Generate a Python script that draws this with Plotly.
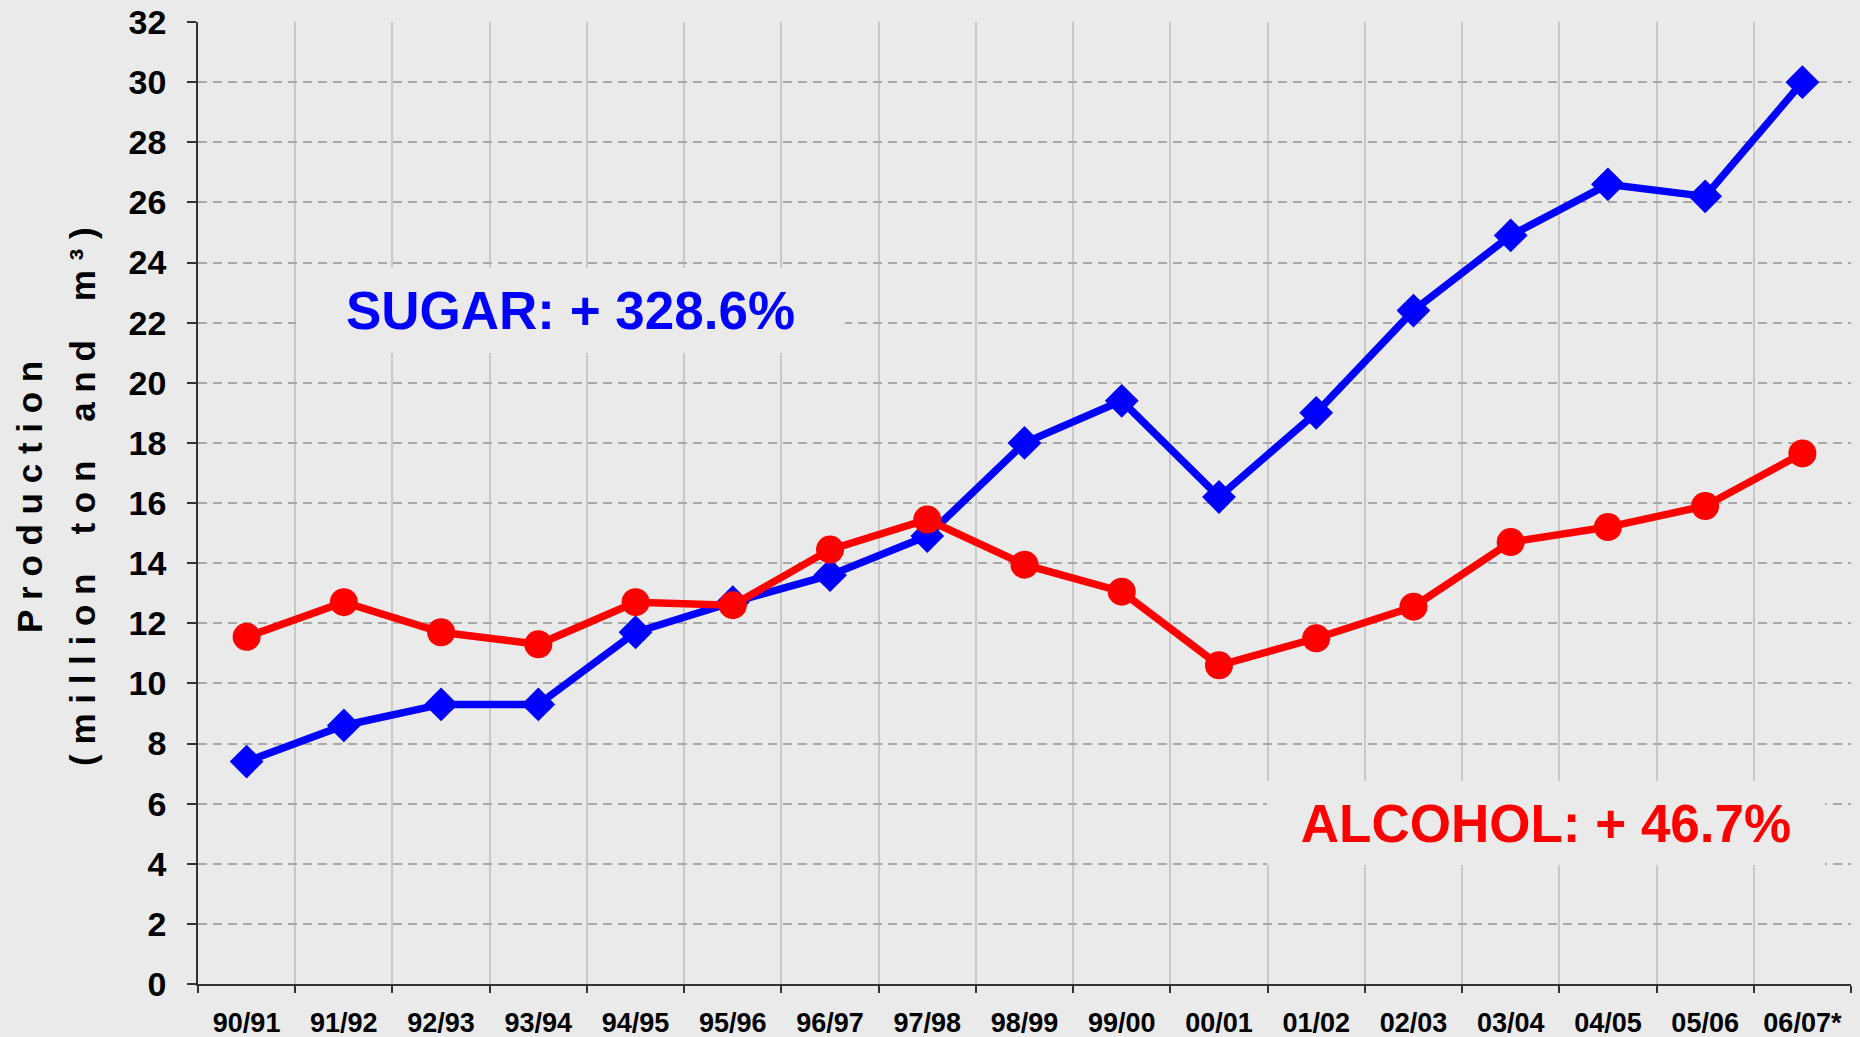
import plotly.graph_objects as go

seasons = ["90/91", "91/92", "92/93", "93/94", "94/95", "95/96", "96/97", "97/98", "98/99",
           "99/00", "00/01", "01/02", "02/03", "03/04", "04/05", "05/06", "06/07*"]
sugar = [7.4, 8.6, 9.3, 9.3, 11.7, 12.7, 13.6, 14.9, 18.0, 19.4, 16.2, 19.0, 22.4, 24.9, 26.6, 26.2, 30.0]
alcohol = [11.55, 12.7, 11.7, 11.3, 12.7, 12.6, 14.45, 15.45, 13.95, 13.05, 10.6, 11.5, 12.55, 14.7, 15.2, 15.9, 17.65]
y_ticks = list(range(0, 33, 2))

FONT = "Liberation Sans, Arial, sans-serif"
BG = "#EAEAEA"
W, H = 1860, 1037
ML, MR, MT, MB = 198, 9, 22, 53
PW, PH = W - ML - MR, H - MT - MB


def px_x(p):
    return (p - ML) / PW


def px_y(p):
    return (H - MB - p) / PH


fig = go.Figure()
fig.add_trace(go.Scatter(
    x=seasons, y=sugar, mode="lines+markers", name="Sugar",
    line=dict(color="#0000FF", width=7.5),
    marker=dict(symbol="diamond", size=26, color="#0000FF"),
))
fig.add_trace(go.Scatter(
    x=seasons, y=alcohol, mode="lines+markers", name="Alcohol",
    line=dict(color="#FF0000", width=7.5),
    marker=dict(symbol="circle", size=28, color="#FF0000"),
))

fig.update_layout(
    width=W, height=H,
    margin=dict(l=ML, r=MR, t=MT, b=MB, autoexpand=False),
    paper_bgcolor=BG, plot_bgcolor=BG,
    showlegend=False,
    font=dict(family=FONT, color="#000000"),
)

fig.update_xaxes(
    type="category", tickson="boundaries", range=[-0.5, len(seasons) - 0.5],
    showgrid=True, gridcolor="#C8C8C8", gridwidth=1.5, griddash="solid",
    showline=True, linecolor="#333333", linewidth=1.5,
    ticks="outside", ticklen=7, tickwidth=1.5, tickcolor="#333333",
    tickfont=dict(family=FONT, size=27, weight="bold", color="#000000"),
    ticklabelstandoff=14, automargin=False,
    zeroline=False,
)
fig.update_yaxes(
    range=[0, 32], tickvals=y_ticks,
    showgrid=True, gridcolor="#A8A8A8", gridwidth=1.5, griddash="9px,6px",
    showline=True, linecolor="#333333", linewidth=1.5,
    ticks="outside", ticklen=9, tickwidth=1.5, tickcolor="#333333",
    tickfont=dict(family=FONT, size=34, weight="bold", color="#000000"),
    ticklabelstandoff=14, automargin=False,
    zeroline=False,
)

NB = "\u00a0"
line1 = NB.join("Production")
words2 = ["(million", "ton", "and", "m³)"]
line2 = (NB * 4).join(NB.join(w) for w in words2)

for txt, cx in [(line1, 29), (line2, 82)]:
    fig.add_annotation(
        text=txt, xref="paper", yref="paper", x=px_x(cx), y=px_y(497),
        xanchor="center", yanchor="middle", textangle=-90, showarrow=False,
        font=dict(family=FONT, size=35, weight="bold", color="#000000"),
    )

# Labels with background boxes that hide the grid
fig.add_annotation(
    text="SUGAR: + 328.6%", xref="paper", yref="paper",
    x=px_x(570), y=px_y(310), xanchor="center", yanchor="middle",
    showarrow=False, width=549, height=85, bgcolor=BG, borderpad=0, borderwidth=0,
    font=dict(family=FONT, size=53, weight="bold", color="#0000FF"),
)
fig.add_annotation(
    text="ALCOHOL: + 46.7%", xref="paper", yref="paper",
    x=px_x(1546), y=px_y(823), xanchor="center", yanchor="middle",
    showarrow=False, width=558, height=84, bgcolor=BG, borderpad=0, borderwidth=0,
    font=dict(family=FONT, size=53, weight="bold", color="#FF0000"),
)

fig.write_html(
    "out.html",
    config={"displayModeBar": False},
    post_script="document.body.style.margin='0';document.body.style.padding='0';"
                "document.documentElement.style.background='" + BG + "';",
)
